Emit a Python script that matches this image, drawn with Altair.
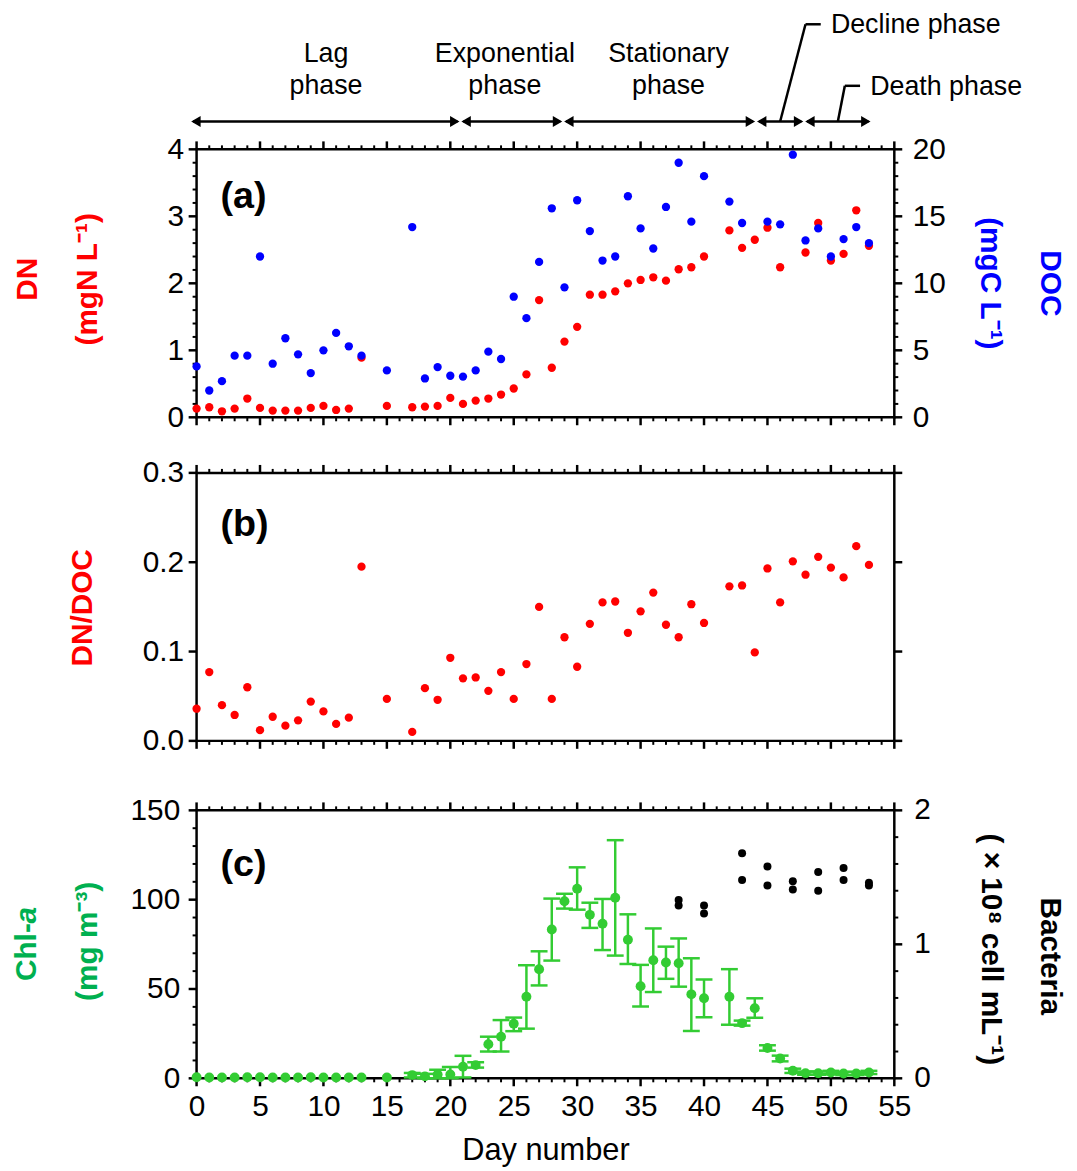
import altair as alt
import pandas as pd

# ---------------- data ----------------
dn_days = [0,1,2,3,4,5,6,7,8,9,10,11,12,13,15,17,18,19,20,21,22,23,24,25,26,27,28,29,30,31,32,33,34,35,36,37,38,39,40,42,43,44,45,46,48,49,50,51,52,53]
dn_vals = [0.13,0.15,0.09,0.13,0.28,0.14,0.10,0.10,0.10,0.14,0.17,0.11,0.13,0.89,0.17,0.15,0.16,0.17,0.29,0.20,0.25,0.28,0.34,0.43,0.64,1.75,0.74,1.13,1.35,1.83,1.83,1.88,2.00,2.05,2.09,2.04,2.21,2.24,2.40,2.79,2.53,2.65,2.83,2.24,2.46,2.90,2.34,2.44,3.09,2.56]

doc_days = [0,1,2,3,4,5,6,7,8,9,10,11,12,13,15,17,18,19,20,21,22,23,24,25,26,27,28,29,30,31,32,33,34,35,36,37,38,39,40,42,43,45,46,47,48,49,50,51,52,53]
doc_vals = [3.8,2.0,2.7,4.6,4.6,12.0,4.0,5.9,4.7,3.3,5.0,6.3,5.3,4.6,3.5,14.2,2.9,3.75,3.1,3.04,3.5,4.9,4.35,9.0,7.4,11.6,15.6,9.7,16.2,13.9,11.7,12.0,16.5,14.1,12.6,15.7,19.0,14.6,18.0,16.1,14.5,14.6,14.4,19.6,13.2,14.1,12.0,13.3,14.2,13.0]

ratio_days = [0,1,2,3,4,5,6,7,8,9,10,11,12,13,15,17,18,19,20,21,22,23,24,25,26,27,28,29,30,31,32,33,34,35,36,37,38,39,40,42,43,44,45,46,47,48,49,50,51,52,53]
ratio_vals = [0.036,0.077,0.040,0.029,0.060,0.012,0.027,0.017,0.023,0.044,0.033,0.019,0.026,0.195,0.047,0.010,0.059,0.046,0.093,0.070,0.071,0.056,0.077,0.047,0.086,0.150,0.047,0.116,0.083,0.131,0.155,0.156,0.121,0.145,0.166,0.130,0.116,0.153,0.132,0.173,0.174,0.099,0.193,0.155,0.201,0.186,0.206,0.194,0.183,0.218,0.197]

chl_days = [0,1,2,3,4,5,6,7,8,9,10,11,12,13,15,17,18,19,20,21,22,23,24,25,26,27,28,29,30,31,32,33,34,35,36,37,38,39,40,42,43,44,45,46,47,48,49,50,51,52,53]
chl_vals = [0.6,0.5,0.5,0.5,0.6,0.6,0.5,0.5,0.5,0.6,0.5,0.5,0.5,0.5,0.5,1.8,1.1,2.2,2.2,6.5,7.4,19.1,23.3,30.6,45.7,61.1,83.3,99.1,106.1,91.5,86.5,101.1,77.6,51.5,66.1,64.8,64.4,47.0,44.8,45.7,30.9,39.2,17.0,11.1,4.2,2.9,2.9,3.3,2.7,2.7,3.3]
chl_lo = [0.6,0.5,0.5,0.5,0.6,0.6,0.5,0.5,0.5,0.6,0.5,0.5,0.5,0.5,0.5,0.5,0.0,0.0,0.0,0.5,6.0,15.0,15.0,26.4,27.8,52.0,65.9,95.0,94.4,84.2,71.8,68.7,64.0,40.2,48.3,55.7,51.3,26.5,34.2,30.0,29.5,33.9,15.5,9.5,3.0,2.0,2.0,2.4,1.8,1.8,2.4]
chl_hi = [0.6,0.5,0.5,0.5,0.6,0.6,0.5,0.5,0.5,0.6,0.5,0.5,0.5,0.5,0.5,3.0,2.5,4.8,6.4,12.6,9.0,23.3,32.6,34.0,63.3,71.1,100.6,103.3,118.1,98.3,100.4,133.3,91.8,63.5,83.9,73.7,78.3,67.2,55.3,61.1,32.3,44.8,18.5,12.7,5.4,3.8,3.8,4.2,3.6,3.6,4.2]

bac_days = [38,38,40,40,43,43,45,45,47,47,49,49,51,51,53,53]
bac_vals = [1.33,1.29,1.29,1.23,1.68,1.48,1.58,1.44,1.47,1.41,1.54,1.40,1.57,1.48,1.46,1.44]

# phase boundaries (day number), names and label anchors (day number)
phase_bounds = [-0.5, 20.8, 28.9, 44.1, 47.9, 53.2]
phase_line1 = ["Lag", "Exponential", "Stationary"]
phase_line2 = ["phase", "phase", "phase"]
phase_label_day = [10.2, 24.3, 37.2]
decline_label = "Decline phase"
death_label = "Death phase"
decline_top = 48.0
death_top = 51.1

# tick values
x_major = [0, 5, 10, 15, 20, 25, 30, 35, 40, 45, 50, 55]
x_minor = [d for d in range(0, 56) if d % 5]
dn_major = [0, 1, 2, 3, 4]
dn_minor = [round(i * 0.2, 1) for i in range(21) if i % 5]
doc_major = [0, 5, 10, 15, 20]
doc_minor = [i for i in range(21) if i % 5]
ratio_major = [0.0, 0.1, 0.2, 0.3]
chl_major = [0, 50, 100, 150]
chl_minor = [i for i in range(0, 151, 10) if i % 50]
bac_major = [0, 1, 2]
bac_labels = ["0", "1", "2"]
bac_minor = [round(i * 0.2, 1) for i in range(11) if i % 5]

# ---------------- style ----------------
FONT = "Liberation Sans"
W, H = 703, 270
MAJ, MIN = 8, 4
EXT = 20  # invisible extent used to fix the vertical gaps between panels
RED, BLUE, GREEN, GREEN_T = "#FF0000", "#0000FF", "#33CC33", "#00B050"


def xs():
    return alt.Scale(domain=[0, 55], nice=False, zero=False)


def ys(dom):
    return alt.Scale(domain=dom, nice=False, zero=False)


def tick_layers(left, left_dom, right, right_dom):
    out = []
    for vals, L, sw in [(x_major, MAJ, 2.5), (x_minor, MIN, 2)]:
        base = alt.Chart(pd.DataFrame({"v": vals})).mark_rule(color="black", strokeWidth=sw).encode(
            x=alt.X("v:Q", scale=xs(), axis=None))
        out.append(base.encode(y=alt.value(-L), y2=alt.value(0)))
        out.append(base.encode(y=alt.value(H), y2=alt.value(H + L)))
    for (maj, mn), dom, side in [(left, left_dom, "l"), (right, right_dom, "r")]:
        for vals, L, sw in [(maj, MAJ, 2.5), (mn, MIN, 2)]:
            if not vals:
                continue
            base = alt.Chart(pd.DataFrame({"v": vals})).mark_rule(color="black", strokeWidth=sw).encode(
                y=alt.Y("v:Q", scale=ys(dom), axis=None))
            if side == "l":
                out.append(base.encode(x=alt.value(-L), x2=alt.value(0)))
            else:
                out.append(base.encode(x=alt.value(W), x2=alt.value(W + L)))
    return out


def spacer(y0, y1):
    return alt.Chart(pd.DataFrame({"t": [0]})).mark_rule(opacity=0, strokeWidth=1).encode(
        x=alt.value(0), y=alt.value(y0), y2=alt.value(y1))


def label(text, x, y, size=30, color="black", weight="bold", angle=0, align="center", italic=False):
    return alt.Chart(pd.DataFrame({"t": [text]})).mark_text(
        font=FONT, fontSize=size, color=color, fontWeight=weight, angle=angle, align=align,
        baseline="middle", fontStyle="italic" if italic else "normal"
    ).encode(text="t:N", x=alt.value(x), y=alt.value(y))


def yaxis(orient, vals, pad, fmt):
    return alt.Axis(orient=orient, values=vals, format=fmt, title=None, domain=False, ticks=False,
                    grid=False, labelPadding=pad, labelFontSize=30, labelFont=FONT,
                    labelColor="black", labelOverlap=False, labelFlush=False)


# ---------------- panel (a) ----------------
dn_pts = alt.Chart(pd.DataFrame({"day": dn_days, "v": dn_vals})).mark_circle(
    color=RED, size=70, opacity=1).encode(
    x=alt.X("day:Q", scale=xs(), axis=None),
    y=alt.Y("v:Q", scale=ys([0, 4]), axis=yaxis("left", dn_major, 13, "d")))
doc_pts = alt.Chart(pd.DataFrame({"day": doc_days, "v": doc_vals})).mark_circle(
    color=BLUE, size=70, opacity=1).encode(
    x=alt.X("day:Q", scale=xs(), axis=None),
    y=alt.Y("v:Q", scale=ys([0, 20]), axis=yaxis("right", doc_major, 18, "d")))

seg = pd.DataFrame({"start": phase_bounds[:-1], "end": phase_bounds[1:]})
seg["mid"] = (seg["start"] + seg["end"]) / 2
ARROW_Y = -28
seg_rules = alt.Chart(seg).mark_rule(color="black", strokeWidth=2.5, xOffset=3, x2Offset=-3).encode(
    x=alt.X("start:Q", scale=xs(), axis=None), x2="end:Q", y=alt.value(ARROW_Y))
head_l = alt.Chart(seg).mark_point(shape="triangle-left", filled=True, size=120, color="black",
                                   opacity=1, strokeWidth=0, xOffset=5.7).encode(
    x=alt.X("start:Q", scale=xs(), axis=None), y=alt.value(ARROW_Y))
head_r = alt.Chart(seg).mark_point(shape="triangle-right", filled=True, size=120, color="black",
                                   opacity=1, strokeWidth=0, xOffset=-5.7).encode(
    x=alt.X("end:Q", scale=xs(), axis=None), y=alt.value(ARROW_Y))

names = pd.DataFrame({"d": phase_label_day, "l1": phase_line1, "l2": phase_line2})
name1 = alt.Chart(names).mark_text(font=FONT, fontSize=27, color="black", baseline="middle").encode(
    x=alt.X("d:Q", scale=xs(), axis=None), y=alt.value(-96), text="l1:N")
name2 = alt.Chart(names).mark_text(font=FONT, fontSize=27, color="black", baseline="middle").encode(
    x=alt.X("d:Q", scale=xs(), axis=None), y=alt.value(-64), text="l2:N")


def leader(bottom_x, top_x, y_top, text):
    d = pd.DataFrame({"b": [bottom_x], "t": [top_x], "e": [top_x + 1.2], "s": [top_x + 2.0], "lab": [text]})
    diag = alt.Chart(d).mark_rule(color="black", strokeWidth=2.5).encode(
        x=alt.X("b:Q", scale=xs(), axis=None), x2="t:Q", y=alt.value(ARROW_Y), y2=alt.value(y_top))
    hor = alt.Chart(d).mark_rule(color="black", strokeWidth=2.5).encode(
        x=alt.X("t:Q", scale=xs(), axis=None), x2="e:Q", y=alt.value(y_top))
    txt = alt.Chart(d).mark_text(font=FONT, fontSize=27, color="black", align="left", baseline="middle").encode(
        x=alt.X("s:Q", scale=xs(), axis=None), y=alt.value(y_top + 1), text="lab:N")
    return [diag, hor, txt]


decl = leader(float(seg["mid"][3]), decline_top, -126, decline_label)
deat = leader(float(seg["mid"][4]), death_top, -64, death_label)

panel_a = alt.layer(
    *tick_layers((dn_major, dn_minor), [0, 4], (doc_major, doc_minor), [0, 20]),
    spacer(H, H + EXT),
    dn_pts, doc_pts,
    seg_rules, head_l, head_r, name1, name2, *decl, *deat,
    label("(a)", 24, 48, size=38, align="left"),
    label("DN", -170, 131, color=RED, angle=270),
    label("(mgN L⁻¹)", -109, 131, color=RED, angle=270),
    label("(mgC L⁻¹)", W + 96, 135, color=BLUE, angle=90),
    label("DOC", W + 157, 135, color=BLUE, angle=90),
).properties(width=W, height=H).resolve_scale(y="independent")

# ---------------- panel (b) ----------------
ratio_pts = alt.Chart(pd.DataFrame({"day": ratio_days, "v": ratio_vals})).mark_circle(
    color=RED, size=70, opacity=1).encode(
    x=alt.X("day:Q", scale=xs(), axis=None),
    y=alt.Y("v:Q", scale=ys([0, 0.3]), axis=yaxis("left", ratio_major, 13, ".1f")))

panel_b = alt.layer(
    *tick_layers((ratio_major, []), [0, 0.3], (ratio_major, []), [0, 0.3]),
    spacer(-EXT, 0), spacer(H, H + EXT),
    ratio_pts,
    label("(b)", 24, 53, size=38, align="left"),
    label("DN/DOC", -114, 136, color=RED, angle=270),
).properties(width=W, height=H).resolve_scale(y="independent")

# ---------------- panel (c) ----------------
chl_df = pd.DataFrame({"day": chl_days, "v": chl_vals, "lo": chl_lo, "hi": chl_hi})
err = alt.Chart(chl_df).transform_filter("datum.hi > datum.lo").mark_rule(
    color=GREEN, strokeWidth=2.5).encode(
    x=alt.X("day:Q", scale=xs(), axis=None),
    y=alt.Y("lo:Q", scale=ys([0, 150]), axis=None), y2="hi:Q")
cap_lo = alt.Chart(chl_df).transform_filter("datum.hi > datum.lo").mark_tick(
    color=GREEN, orient="horizontal", size=17, thickness=2.5, opacity=1).encode(
    x=alt.X("day:Q", scale=xs(), axis=None),
    y=alt.Y("lo:Q", scale=ys([0, 150]), axis=None))
cap_hi = alt.Chart(chl_df).transform_filter("datum.hi > datum.lo").mark_tick(
    color=GREEN, orient="horizontal", size=17, thickness=2.5, opacity=1).encode(
    x=alt.X("day:Q", scale=xs(), axis=None),
    y=alt.Y("hi:Q", scale=ys([0, 150]), axis=None))
chl_pts = alt.Chart(chl_df).mark_circle(color=GREEN, size=100, opacity=1).encode(
    x=alt.X("day:Q", scale=xs(), axis=alt.Axis(
        orient="bottom", values=x_major, format="d", title="Day number", domain=False, ticks=False,
        grid=False, labelPadding=13, labelFontSize=30, labelFont=FONT, labelColor="black",
        labelFlush=False, labelOverlap=False, titleFont=FONT, titleFontSize=31,
        titleFontWeight="normal", titleColor="black", titlePadding=15)),
    y=alt.Y("v:Q", scale=ys([0, 150]), axis=yaxis("left", chl_major, 17, "d")))
bac_pts = alt.Chart(pd.DataFrame({"day": bac_days, "v": bac_vals})).mark_circle(
    color="black", size=65, opacity=1).encode(
    x=alt.X("day:Q", scale=xs(), axis=None),
    y=alt.Y("v:Q", scale=ys([0, 2]), axis=None))
bac_tick_labels = alt.Chart(pd.DataFrame({"v": bac_major, "t": bac_labels})).mark_text(
    font=FONT, fontSize=30, color="black", align="left", baseline="middle").encode(
    x=alt.value(W + 20), y=alt.Y("v:Q", scale=ys([0, 2]), axis=None), text="t:N")

panel_c = alt.layer(
    *tick_layers((chl_major, chl_minor), [0, 150], (bac_major, bac_minor), [0, 2]),
    spacer(-EXT - 14, 0),
    err, cap_lo, cap_hi, chl_pts, bac_pts, bac_tick_labels,
    label("(c)", 24, 55, size=38, align="left"),
    label("Chl-", -171, 172, color=GREEN_T, angle=270, align="left"),
    label("a", -171, 114, color=GREEN_T, angle=270, align="left", italic=True),
    label("(mg m⁻³)", -109, 132, color=GREEN_T, angle=270),
    label("( × 10⁸ cell mL⁻¹)", W + 97, 140, color="black", angle=90),
    label("Bacteria", W + 157, 147, color="black", angle=90),
).properties(width=W, height=H).resolve_scale(y="independent").resolve_axis(x="independent")

chart = alt.vconcat(panel_a, panel_b, panel_c, spacing=12).properties(
    padding={"left": 2, "top": -3, "right": 2, "bottom": 2}
).configure(font=FONT).configure_view(stroke="black", strokeWidth=2.5)

chart.save("out.html", embed_options={"renderer": "svg", "actions": False})
